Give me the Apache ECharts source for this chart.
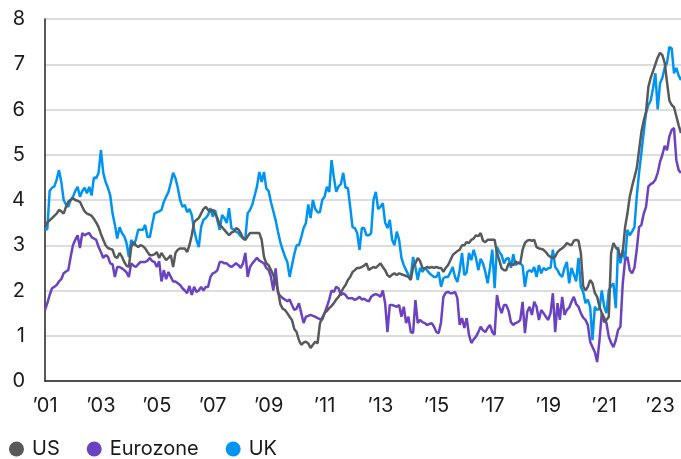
<!DOCTYPE html>
<html>
<head>
<meta charset="utf-8">
<script src="https://cdn.jsdelivr.net/npm/echarts@6/dist/echarts.min.js"></script>
<style>
  html, body { margin: 0; padding: 0; background: #fff; }
  #main { width: 681px; height: 459px; }
</style>
</head>
<body>
<div id="main"></div>
<script>
// monthly, Jan 2001 .. Oct 2023
const startYear = 2001
const monthCount = 274
const tickLabels = ['’01', '’03', '’05', '’07', '’09', '’11', '’13', '’15', '’17', '’19', '’21', '’23']

const us = [
  3.40, 3.50, 3.55, 3.60, 3.65, 3.70, 3.78, 3.75, 3.70, 3.85, 3.96, 4.00,
  4.04, 4.00, 3.98, 3.96, 3.85, 3.75, 3.70, 3.68, 3.65, 3.58, 3.50, 3.40,
  3.25, 3.12, 3.00, 2.94, 2.92, 2.90, 2.75, 2.72, 2.83, 2.75, 2.63, 2.55,
  2.52, 2.96, 3.07, 3.00, 2.96, 3.00, 2.98, 2.93, 2.85, 2.78, 2.78, 2.80,
  2.85, 2.72, 2.83, 2.75, 2.67, 2.72, 2.78, 2.52, 2.83, 2.90, 2.93, 2.93,
  2.93, 2.85, 3.00, 3.22, 3.51, 3.56, 3.60, 3.70, 3.80, 3.85, 3.78, 3.75,
  3.78, 3.70, 3.60, 3.45, 3.40, 3.34, 3.28, 3.22, 3.28, 3.30, 3.38, 3.35,
  3.27, 3.15, 3.12, 3.20, 3.27, 3.27, 3.27, 3.27, 3.27, 3.12, 2.74, 2.60,
  2.56, 2.45, 2.34, 2.20, 2.00, 1.70, 1.60, 1.57, 1.50, 1.42, 1.35, 1.15,
  1.08, 0.90, 0.80, 0.85, 0.87, 0.83, 0.73, 0.80, 0.87, 0.83, 1.27, 1.40,
  1.50, 1.55, 1.61, 1.66, 1.72, 1.80, 1.86, 1.95, 2.05, 2.12, 2.23, 2.30,
  2.41, 2.45, 2.50, 2.50, 2.52, 2.55, 2.60, 2.45, 2.49, 2.52, 2.50, 2.55,
  2.60, 2.52, 2.45, 2.34, 2.30, 2.35, 2.38, 2.34, 2.38, 2.36, 2.34, 2.32,
  2.30, 2.23, 2.52, 2.60, 2.72, 2.65, 2.50, 2.49, 2.52, 2.50, 2.52, 2.50,
  2.52, 2.50, 2.50, 2.41, 2.50, 2.56, 2.67, 2.78, 2.83, 2.87, 2.90, 3.00,
  3.00, 3.07, 3.05, 3.12, 3.15, 3.22, 3.20, 3.27, 3.10, 3.07, 3.12, 3.12,
  3.12, 3.12, 2.83, 2.67, 2.49, 2.45, 2.45, 2.60, 2.58, 2.56, 2.64, 2.60,
  2.60, 2.90, 3.05, 3.10, 3.12, 3.10, 3.12, 2.96, 2.93, 2.92, 2.90, 2.85,
  2.78, 2.74, 2.72, 2.75, 2.85, 2.90, 2.93, 2.98, 3.05, 3.02, 3.00, 3.10,
  3.12, 3.10, 2.83, 2.10, 2.00, 2.08, 2.23, 2.16, 1.95, 1.86, 1.64, 1.50,
  1.30, 1.35, 1.42, 2.83, 3.05, 2.95, 2.90, 2.72, 2.85, 3.40, 3.70, 4.07,
  4.30, 4.50, 4.70, 5.10, 5.50, 5.75, 5.95, 6.50, 6.70, 6.85, 7.00, 7.15,
  7.25, 7.20, 7.03, 6.60, 6.20, 6.10, 6.05, 5.85, 5.65, 5.48
]

const eurozone = [
  1.57, 1.72, 1.90, 2.05, 2.08, 2.12, 2.20, 2.25, 2.38, 2.42, 2.45, 2.74,
  3.00, 3.12, 3.22, 2.94, 3.27, 3.22, 3.25, 3.27, 3.18, 3.15, 3.12, 2.96,
  2.85, 2.72, 2.78, 2.75, 2.60, 2.58, 2.30, 2.52, 2.52, 2.49, 2.45, 2.40,
  2.30, 2.60, 2.55, 2.52, 2.58, 2.63, 2.63, 2.63, 2.66, 2.72, 2.65, 2.63,
  2.52, 2.65, 2.20, 2.45, 2.25, 2.41, 2.30, 2.20, 2.20, 2.16, 2.12, 2.05,
  2.00, 1.94, 2.10, 1.90, 2.08, 1.97, 2.00, 2.08, 2.00, 2.08, 2.08, 2.30,
  2.38, 2.40, 2.45, 2.63, 2.63, 2.60, 2.60, 2.55, 2.52, 2.56, 2.60, 2.56,
  2.50, 2.60, 2.83, 2.30, 2.52, 2.60, 2.66, 2.72, 2.66, 2.63, 2.60, 2.50,
  2.45, 2.30, 2.00, 2.49, 1.95, 1.88, 1.83, 1.80, 1.76, 1.80, 1.68, 1.57,
  1.60, 1.72, 1.50, 1.28, 1.42, 1.44, 1.46, 1.44, 1.42, 1.39, 1.37, 1.35,
  1.50, 1.64, 1.80, 2.00, 1.97, 2.08, 2.05, 1.90, 1.94, 1.90, 1.83, 1.83,
  1.83, 1.79, 1.82, 1.86, 1.80, 1.82, 1.78, 1.76, 1.86, 1.90, 1.92, 1.90,
  1.86, 2.00, 1.72, 1.08, 1.68, 1.68, 1.66, 1.64, 1.68, 1.42, 1.64, 1.28,
  1.42, 1.08, 1.06, 1.79, 1.28, 1.35, 1.30, 1.28, 1.24, 1.26, 1.28, 1.20,
  1.08, 1.06, 1.30, 1.86, 1.95, 1.97, 1.94, 1.94, 1.97, 1.83, 1.24, 1.39,
  1.17, 1.39, 1.02, 0.84, 0.92, 0.98, 1.08, 1.20, 1.12, 1.08, 1.17, 1.24,
  1.08, 1.02, 1.90, 1.64, 1.50, 1.68, 1.68, 1.55, 1.30, 1.24, 1.28, 1.30,
  1.35, 1.75, 1.06, 1.53, 1.64, 1.46, 1.75, 1.64, 1.35, 1.57, 1.50, 1.42,
  1.35, 1.50, 1.94, 1.08, 1.72, 1.35, 1.86, 1.46, 1.57, 1.62, 1.75, 1.86,
  1.70, 1.64, 1.50, 1.40, 1.35, 1.24, 0.87, 0.75, 0.64, 0.42, 0.90, 1.50,
  1.40, 1.28, 0.98, 0.84, 0.75, 0.90, 1.13, 1.20, 2.16, 2.67, 2.74, 2.45,
  2.38, 2.50, 2.90, 3.40, 3.45, 3.70, 3.85, 4.30, 4.35, 4.38, 4.45, 4.60,
  4.84, 5.00, 5.20, 5.10, 5.40, 5.55, 5.59, 4.88, 4.66, 4.60
]

const uk = [
  3.34, 3.36, 4.20, 4.27, 4.30, 4.45, 4.66, 4.40, 4.00, 3.90, 3.85, 4.00,
  4.07, 4.20, 4.29, 4.07, 4.20, 4.27, 4.15, 4.29, 4.10, 4.50, 4.48, 4.60,
  5.10, 4.60, 4.40, 4.27, 4.10, 3.70, 3.45, 3.15, 3.40, 3.27, 3.20, 3.05,
  2.74, 3.12, 3.00, 3.12, 3.34, 3.34, 3.34, 3.45, 3.18, 3.18, 3.45, 3.70,
  3.73, 3.75, 3.78, 3.96, 4.07, 4.18, 4.38, 4.60, 4.48, 4.27, 4.00, 3.85,
  3.89, 3.73, 3.80, 3.67, 3.34, 3.12, 2.96, 3.40, 3.56, 3.60, 3.67, 3.82,
  3.63, 3.78, 3.55, 3.34, 3.67, 3.60, 3.49, 3.82, 3.38, 3.34, 3.30, 3.27,
  3.20, 3.16, 3.16, 3.71, 3.78, 3.90, 4.10, 4.30, 4.62, 4.40, 4.62, 4.25,
  4.20, 3.95, 3.75, 3.55, 3.30, 3.07, 2.90, 2.75, 2.63, 2.30, 2.55, 2.80,
  3.00, 3.00, 3.18, 3.38, 3.49, 3.90, 3.60, 4.00, 3.80, 3.73, 3.73, 4.00,
  4.07, 4.29, 4.18, 4.88, 4.50, 4.18, 4.30, 4.35, 4.60, 4.27, 4.27, 3.85,
  3.40, 3.38, 3.27, 2.90, 3.38, 3.38, 3.22, 3.22, 3.27, 4.00, 4.18, 3.80,
  3.85, 3.93, 3.50, 3.38, 3.56, 3.12, 3.00, 3.30, 3.12, 2.72, 2.56, 2.45,
  2.34, 2.30, 2.74, 2.52, 2.23, 2.50, 2.41, 2.49, 2.45, 2.38, 2.34, 2.30,
  2.30, 2.41, 2.08, 2.27, 2.30, 2.30, 2.40, 2.52, 2.30, 2.19, 2.45, 2.83,
  2.34, 2.40, 2.83, 2.67, 2.90, 2.72, 2.45, 2.70, 2.60, 2.41, 2.16, 2.50,
  2.90, 2.05, 2.96, 2.85, 2.78, 2.60, 2.70, 2.72, 2.50, 2.80, 2.56, 2.62,
  2.60, 2.55, 2.08, 2.41, 2.45, 2.41, 2.52, 2.30, 2.56, 2.38, 2.50, 2.45,
  2.49, 2.50, 2.90, 2.52, 2.45, 2.35, 2.30, 2.50, 2.63, 2.16, 2.50, 2.35,
  2.20, 2.72, 2.08, 1.97, 1.72, 1.80, 1.64, 0.90, 1.64, 1.57, 1.60, 2.00,
  1.65, 1.50, 2.00, 2.10, 2.16, 1.61, 2.96, 2.60, 2.90, 2.67, 3.34, 3.22,
  3.30, 3.40, 4.07, 4.60, 5.04, 5.50, 5.92, 6.10, 6.20, 6.47, 6.80, 6.00,
  6.58, 6.70, 6.92, 7.03, 7.38, 7.35, 6.80, 6.92, 6.75, 6.65
]

const months = []
for (let i = 0; i < monthCount; i++) {
  const y = startYear + Math.floor(i / 12)
  const m = (i % 12) + 1
  months.push(y + '-' + (m < 10 ? '0' + m : m))
}

const font = 'Inter, Roboto, sans-serif'
const chart = echarts.init(document.getElementById('main'), null, { renderer: 'canvas' })

const option = {
  animation: false,
  backgroundColor: '#ffffff',
  grid: { left: 45, right: 0, top: 19, bottom: 78, containLabel: false },
  legend: {
    left: 4,
    top: 434,
    icon: 'circle',
    itemWidth: 15,
    itemHeight: 15,
    itemGap: 27,
    data: ['US', 'Eurozone', 'UK'],
    textStyle: { fontFamily: font, fontSize: 20, color: '#1a1a1a', padding: [0, 0, 0, 3] }
  },
  xAxis: {
    type: 'category',
    data: months,
    boundaryGap: false,
    axisLine: { show: true, lineStyle: { color: '#222', width: 1.5 } },
    axisTick: { show: false },
    axisLabel: {
      interval: (idx) => idx % 24 === 0,
      formatter: (val, idx) => tickLabels[idx / 24],
      fontFamily: font,
      fontSize: 20,
      color: '#1a1a1a',
      margin: 15
    },
    splitLine: { show: false }
  },
  yAxis: {
    type: 'value',
    min: 0,
    max: 8,
    interval: 1,
    axisLine: { show: true, lineStyle: { color: '#222', width: 1.5 } },
    axisTick: { show: false },
    axisLabel: { fontFamily: font, fontSize: 20, color: '#1a1a1a', margin: 20 },
    splitLine: { lineStyle: { color: '#d2d2d2', width: 1.5 } }
  },
  series: [
    {
      name: 'UK', type: 'line', data: uk, symbol: 'none',
      itemStyle: { color: '#0094f2' },
      lineStyle: { color: '#0094f2', width: 2.5 }
    },
    {
      name: 'Eurozone', type: 'line', data: eurozone, symbol: 'none',
      itemStyle: { color: '#6b42c1' },
      lineStyle: { color: '#6b42c1', width: 2.5 }
    },
    {
      name: 'US', type: 'line', data: us, symbol: 'none',
      itemStyle: { color: '#58595b' },
      lineStyle: { color: '#58595b', width: 2.5 }
    }
  ]
}

chart.setOption(option)
</script>
</body>
</html>
